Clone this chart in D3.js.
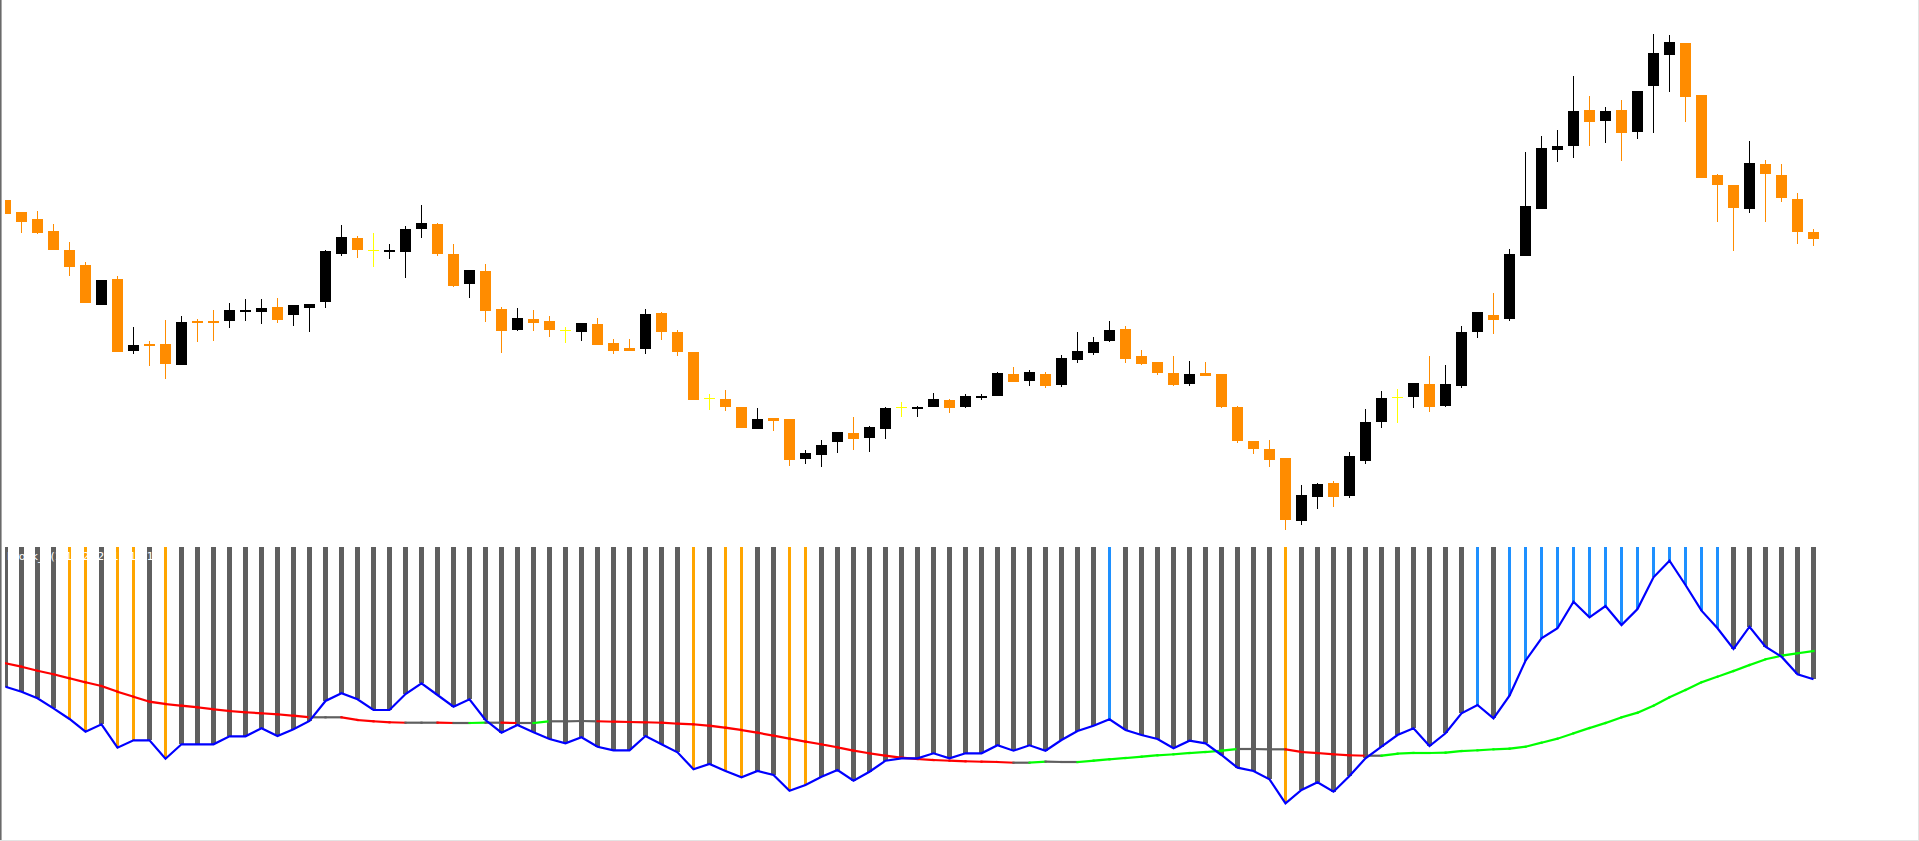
<!DOCTYPE html>
<html>
<head>
<meta charset="utf-8">
<script src="https://cdn.jsdelivr.net/npm/d3@7"></script>
<style>
html,body{margin:0;padding:0;background:#fff;overflow:hidden;}
svg{display:block;}
</style>
</head>
<body>
<script>
// ---------------- DATA ----------------
const openP = [400,388,381,369,350,335,295.3,321,249.3,256,256,235.3,279,279,279.3,288.3,288.3,293,285.3,292.3,
298.3,346.3,362,349.7,348.3,348.3,371.3,376,346,316.3,329,291,270.3,281,279,269.7,268.3,276,257,252,
251.3,287,268,248,201.7,201,193,171.3,182,181,141.3,145.3,158.3,167,162.3,171.3,193,191.3,193.3,200,
193.3,202.3,204.3,226,219.3,226,215.3,240.3,247.3,259.3,271,244,238,227,216.3,227,226,193,159,151,
142,79.3,103.3,117,104.3,139.3,178.3,203,203.3,216,194.3,214.3,268.3,285,281.3,344.3,391.3,450.3,454.3,490,
479.3,490,468.3,514.3,545.3,557,505,425,415,391.3,436,425,401,368];
const highP = [400,388,389,376,358,338,320,324,273,259,280,284,281,290,297,301,301,302,295,296,
350,375,364,367,356,374,395,377,356,330,336,293,292,290,284,273,277,282,261,261,
291,288,270,248,206,210,193,192,182,181,150,160,168,183,174,193,198,194,207,201,
206,206,228,233,230,228,245,268,263,279,274,250,238,244,239,238,226,194,159,160,
142,115,117,119,148,191,209,211,217,244,235,274,288,307,351,448,464,470,524,504,
493,500,509,566,565,557,505,426,415,459,440,436,407,371];
const lowP = [386.3,367.3,366.3,350.3,324.3,297.3,295.3,248.3,246.3,234.3,221.3,235.3,258.3,259.3,272.3,279.3,276.3,277.3,274.3,268.3,
292.3,344.3,342.3,333.3,341.3,322.3,362.3,344.3,313.3,302.3,278.3,247.3,269.3,269.3,263.3,257.3,259.3,255.3,246.3,249.3,
246.3,260.3,244.3,200.3,190.3,189.3,172.3,171.3,169.3,134.3,136.3,133.3,147.3,150.3,148.3,161.3,183.3,183.3,193.3,187.3,
192.3,200.3,204.3,218.3,214.3,212.3,213.3,237.3,245.3,258.3,237.3,235.3,225.3,214.3,214.3,224.3,192.3,157.3,146.3,133.3,
70.3,75.3,91.3,93.3,102.3,136.3,172.3,177.3,192.3,188.3,193.3,212.3,262.3,266.3,279.3,344.3,391.3,438.3,442.3,454.3,
457.3,439.3,461.3,467.3,508.3,478.3,422.3,378.3,349.3,387.3,378.3,398.3,356.3,354.3];
const closeP = [386.3,378.3,367.3,350.3,333.3,297.3,320,248.3,255,254.3,236.3,278,277.3,277.3,290,290.3,292,280.3,295,296,
349,363,350.3,349.7,350,371,377,346.3,314.3,330,289.3,269.3,282,277.3,270.3,269.7,277,255.3,249.3,249.3,
286,268.3,248.3,200.3,201.7,193.3,172.3,181,179.3,140.3,147,155,168,161.3,173,192,193,193,201,192.3,
204,204,227,218.3,228,214.3,242,249,258,270,241.3,236.3,227.3,215.3,226,224.3,193.3,159.3,151.3,140.3,
80.3,105,116,103.3,144,178,202,203,217,193.3,216,268,288,280.3,346,394,452,454,489,478.3,
489,467.3,509,547,558,503.3,422.3,415.3,392.3,437,426.3,402.3,368.3,361.3];

// oscillator (histogram + blue line)
const osc = [-139.7,-144.7,-151.3,-161.3,-172,-184.7,-177.3,-200.7,-193.3,-193.3,-211.7,-197.3,-197.3,-197.3,-189.3,-189.3,-181.3,-189,-182.3,-174,
-154,-146.3,-152.3,-163,-163,-147,-136.3,-148,-159.7,-152.3,-173,-185.7,-178,-185.3,-192,-196.3,-190.3,-199.7,-203.3,-203.3,
-189,-197.3,-205.3,-222.3,-217,-224,-230.3,-224,-228,-243.7,-238,-229.7,-223,-233.7,-224.7,-213.7,-211.3,-211.3,-206.3,-211.3,
-206.3,-206.3,-198.3,-203.7,-198.3,-203.7,-193,-184,-178.7,-172.3,-183,-188,-192,-201.3,-193.7,-196.3,-208,-220.7,-224,-232.3,
-256.3,-243,-235.3,-244.7,-229,-211.3,-199.7,-188,-181.3,-199,-186.3,-166.3,-158,-171.3,-148.7,-113.7,-91.3,-81.3,-54.7,-70.3,
-59,-78,-62,-30.3,-13.7,-38,-63.7,-81.3,-102,-79.7,-99.7,-109.7,-127.3,-132.3];
// histogram bars drawn in the "falling" (orange) and "rising" (blue) colours; others neutral grey
const fallingBars = [4,5,7,8,10,43,45,46,49,50,80];
const risingBars = [69,92,94,95,96,97,98,99,100,101,102,103,104,105,106,107];
// signal line and its slope state per segment (d = down, f = flat, u = up)
const signal = [-116.3,-119.7,-123.7,-127.3,-131.3,-135.3,-139,-144.7,-149.7,-154.7,-157,-158.7,-160.3,-162.3,-164,-165.3,-166.3,-167.3,-168.7,-170.3,
-170.3,-170.3,-173,-174.3,-175.3,-175.7,-175.7,-175.7,-176,-176,-175.7,-175.7,-176,-176,-174.3,-174.3,-174,-174.3,-174.7,-175,
-175.3,-175.7,-176.7,-177.3,-178.7,-180.7,-183,-185.7,-188.7,-191.7,-194.7,-197.3,-200.3,-203.7,-206.3,-208.7,-210.7,-212,-213,-213.7,
-214.3,-214.7,-215,-215.7,-215.7,-214.7,-215,-215,-213.7,-212.3,-211,-209.7,-208.3,-207.3,-206,-205,-203.7,-202,-202,-202.3,
-202.3,-205,-206,-207.3,-208.3,-208.7,-208.7,-206.7,-206,-206,-205.7,-204,-203.3,-202.3,-201.7,-199.7,-195.7,-191.7,-186.3,-181,
-176,-170.3,-165.7,-158.7,-150.3,-143,-135.3,-129.7,-124,-118,-112.3,-108.7,-106.3,-104];
const sigState = ("dddddddddddddddddddd" + "ff" + "dddd" + "ff" + "d" + "f" + "u" + "f" + "d" + "f" + "u" + "fff"
  + "dddddddddddddddddddddddddd" + "f" + "u" + "ff" + "uuuuuuuuuu" + "fff" + "ddddd" + "f"
  + "uuuuuuuuuuuuuuuuuuuuuuuuuuu").split("");
const indicatorLabel = "Brock_0(1,12,2,-2,-12,14,1)";

// ---------------- LAYOUT ----------------
const W = 1919, H = 841;
const n = openP.length;
const svg = d3.select("body").append("svg").attr("width", W).attr("height", H);
svg.append("rect").attr("width", W).attr("height", H).attr("fill", "#ffffff");

const x = d3.scaleLinear().domain([0, n - 1]).range([5.5, 5.5 + 16 * (n - 1)]);
const yMain = d3.scaleLinear().domain([70, 570]).range([530, 30]);
const yInd = d3.scaleLinear().domain([-293, 0]).range([840, 547]);

const defs = svg.append("defs");
defs.append("clipPath").attr("id", "clipMain").append("rect")
  .attr("x", 5).attr("y", 0).attr("width", W - 6).attr("height", 545);
defs.append("clipPath").attr("id", "clipInd").append("rect")
  .attr("x", 5).attr("y", 547).attr("width", W - 6).attr("height", 293);

// ---------------- CANDLES ----------------
const candles = d3.range(n).map(i => ({i, o: openP[i], h: highP[i], l: lowP[i], c: closeP[i]}));
const colorOf = d => d.c > d.o ? "#000000" : (d.c < d.o ? "#FF8C00" : "#FFFF00");
const gMain = svg.append("g").attr("clip-path", "url(#clipMain)").attr("shape-rendering", "crispEdges");

gMain.selectAll("rect.wick").data(candles).join("rect").attr("class", "wick")
  .attr("x", d => x(d.i) - 0.5).attr("width", 1)
  .attr("y", d => yMain(d.h)).attr("height", d => Math.max(1, yMain(d.l) - yMain(d.h)))
  .attr("fill", colorOf);

gMain.selectAll("rect.body").data(candles).join("rect").attr("class", "body")
  .attr("x", d => x(d.i) - 5.5).attr("width", 11)
  .attr("y", d => d.c === d.o ? yMain(d.o) - 0.5 : yMain(Math.max(d.o, d.c)))
  .attr("height", d => Math.max(1, Math.abs(yMain(d.o) - yMain(d.c))))
  .attr("fill", colorOf);

// ---------------- INDICATOR ----------------
const stateOf = i => fallingBars.includes(i) ? "o" : (risingBars.includes(i) ? "b" : "g");
const gInd = svg.append("g").attr("clip-path", "url(#clipInd)");
const barColor = {g: "#5f5f5f", o: "#FFA500", b: "#1E90FF"};
gInd.append("g").attr("shape-rendering", "crispEdges")
  .selectAll("rect").data(d3.range(n)).join("rect")
  .attr("x", i => x(i) - (stateOf(i) === "g" ? 2.5 : 1.5))
  .attr("width", i => stateOf(i) === "g" ? 5 : 3)
  .attr("y", yInd(0))
  .attr("height", i => yInd(osc[i]) - yInd(0))
  .attr("fill", i => barColor[stateOf(i)]);

const sigColor = {d: "#FF0000", f: "#5f5f5f", u: "#00FF00"};
gInd.append("g").selectAll("line").data(d3.range(1, n)).join("line")
  .attr("x1", i => x(i - 1)).attr("y1", i => yInd(signal[i - 1]))
  .attr("x2", i => x(i)).attr("y2", i => yInd(signal[i]))
  .attr("stroke", i => sigColor[sigState[i]])
  .attr("stroke-width", 2.2).attr("stroke-linecap", "square");

gInd.append("path").datum(d3.range(n))
  .attr("d", d3.line().x(i => x(i)).y(i => yInd(osc[i])))
  .attr("fill", "none").attr("stroke", "#0000FF").attr("stroke-width", 2.2)
  .attr("stroke-linejoin", "miter");

svg.append("text").attr("x", 7).attr("y", 560)
  .attr("font-family", "DejaVu Sans, sans-serif").attr("font-size", 11)
  .attr("fill", "#ffffff").text(indicatorLabel);

// ---------------- FRAME ----------------
svg.append("rect").attr("x", 0).attr("y", 0).attr("width", 1).attr("height", H).attr("fill", "#6a6a6a");
svg.append("rect").attr("x", 1).attr("y", 0).attr("width", 1).attr("height", H).attr("fill", "#a8a8a8");
svg.append("rect").attr("x", W - 1).attr("y", 0).attr("width", 1).attr("height", H).attr("fill", "#e3e3e3");
svg.append("rect").attr("x", 0).attr("y", H - 1).attr("width", W).attr("height", 1).attr("fill", "#e3e3e3");
</script>
</body>
</html>
